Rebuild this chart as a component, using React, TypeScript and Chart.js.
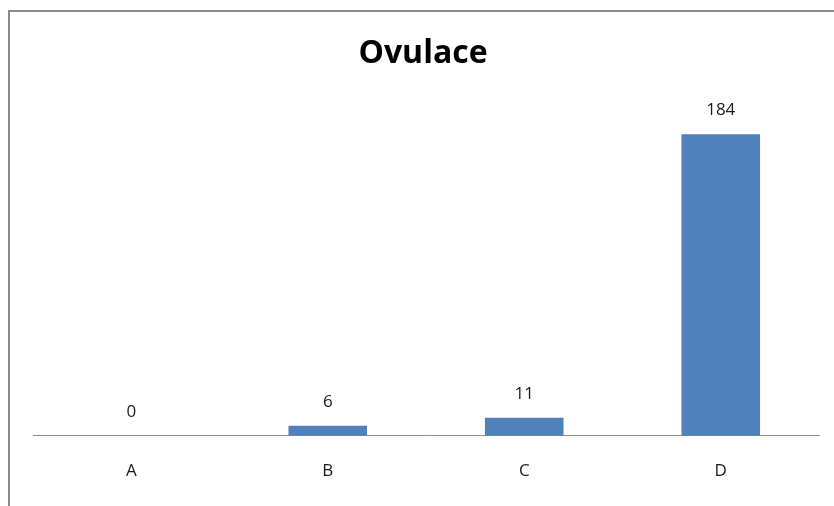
import React, { useEffect, useRef } from "react";
import { Chart, registerables } from "chart.js";

Chart.register(...registerables);

const categories = ["A", "B", "C", "D"];
const values = [0, 6, 11, 184];
const chartTitle = "Ovulace";

const FONT = "'Open Sans', 'Noto Sans', sans-serif";

// Frame line along the top and left of the chart box, plus the title.
const framePlugin = {
  id: "frame",
  beforeDraw(chart: any) {
    const { ctx, width, height } = chart;
    ctx.save();
    ctx.fillStyle = "#ffffff";
    ctx.fillRect(0, 0, width, height);
    ctx.strokeStyle = "#8a8a8a";
    ctx.lineWidth = 2;
    ctx.beginPath();
    ctx.moveTo(9, height);
    ctx.lineTo(9, 11);
    ctx.lineTo(width, 11);
    ctx.stroke();
    ctx.fillStyle = "#000000";
    ctx.font = `bold 32px ${FONT}`;
    ctx.textAlign = "center";
    ctx.textBaseline = "middle";
    ctx.fillText(chartTitle, 423, 54);
    ctx.restore();
  },
};

// Value labels above each bar.
const valueLabelPlugin = {
  id: "valueLabels",
  afterDatasetsDraw(chart: any) {
    const { ctx } = chart;
    const meta = chart.getDatasetMeta(0);
    const data = chart.data.datasets[0].data as number[];
    ctx.save();
    ctx.fillStyle = "#1a1a1a";
    ctx.font = `17px ${FONT}`;
    ctx.textAlign = "center";
    ctx.textBaseline = "middle";
    meta.data.forEach((bar: any, i: number) => {
      ctx.fillText(String(data[i]), bar.x, bar.y - 24);
    });
    ctx.restore();
  },
};

export default function App() {
  const canvasRef = useRef<HTMLCanvasElement | null>(null);

  useEffect(() => {
    if (!canvasRef.current) return;
    const chart = new Chart(canvasRef.current, {
      type: "bar",
      data: {
        labels: categories,
        datasets: [
          {
            data: values,
            backgroundColor: "#4f81bd",
            borderWidth: 0,
            barPercentage: 0.4,
            categoryPercentage: 1,
          },
        ],
      },
      options: {
        animation: false,
        responsive: false,
        maintainAspectRatio: false,
        layout: { padding: { left: 33, right: 15, top: 108, bottom: 0 } },
        plugins: {
          legend: { display: false },
          title: { display: false },
          tooltip: { enabled: false },
        },
        scales: {
          x: {
            grid: { display: false, drawTicks: false, tickLength: 0 },
            border: { display: true, color: "#8c8c8c", width: 1 },
            ticks: {
              padding: 27,
              color: "#1a1a1a",
              font: { family: FONT, size: 17, lineHeight: 0.96 },
            },
          },
          y: {
            display: false,
            min: 0,
            max: 200,
          },
        },
      },
      plugins: [framePlugin, valueLabelPlugin],
    });
    return () => chart.destroy();
  }, []);

  return (
    <div style={{ position: "absolute", left: 0, top: 0, width: 834, height: 506 }}>
      <canvas ref={canvasRef} width={834} height={506} style={{ display: "block" }} />
    </div>
  );
}
